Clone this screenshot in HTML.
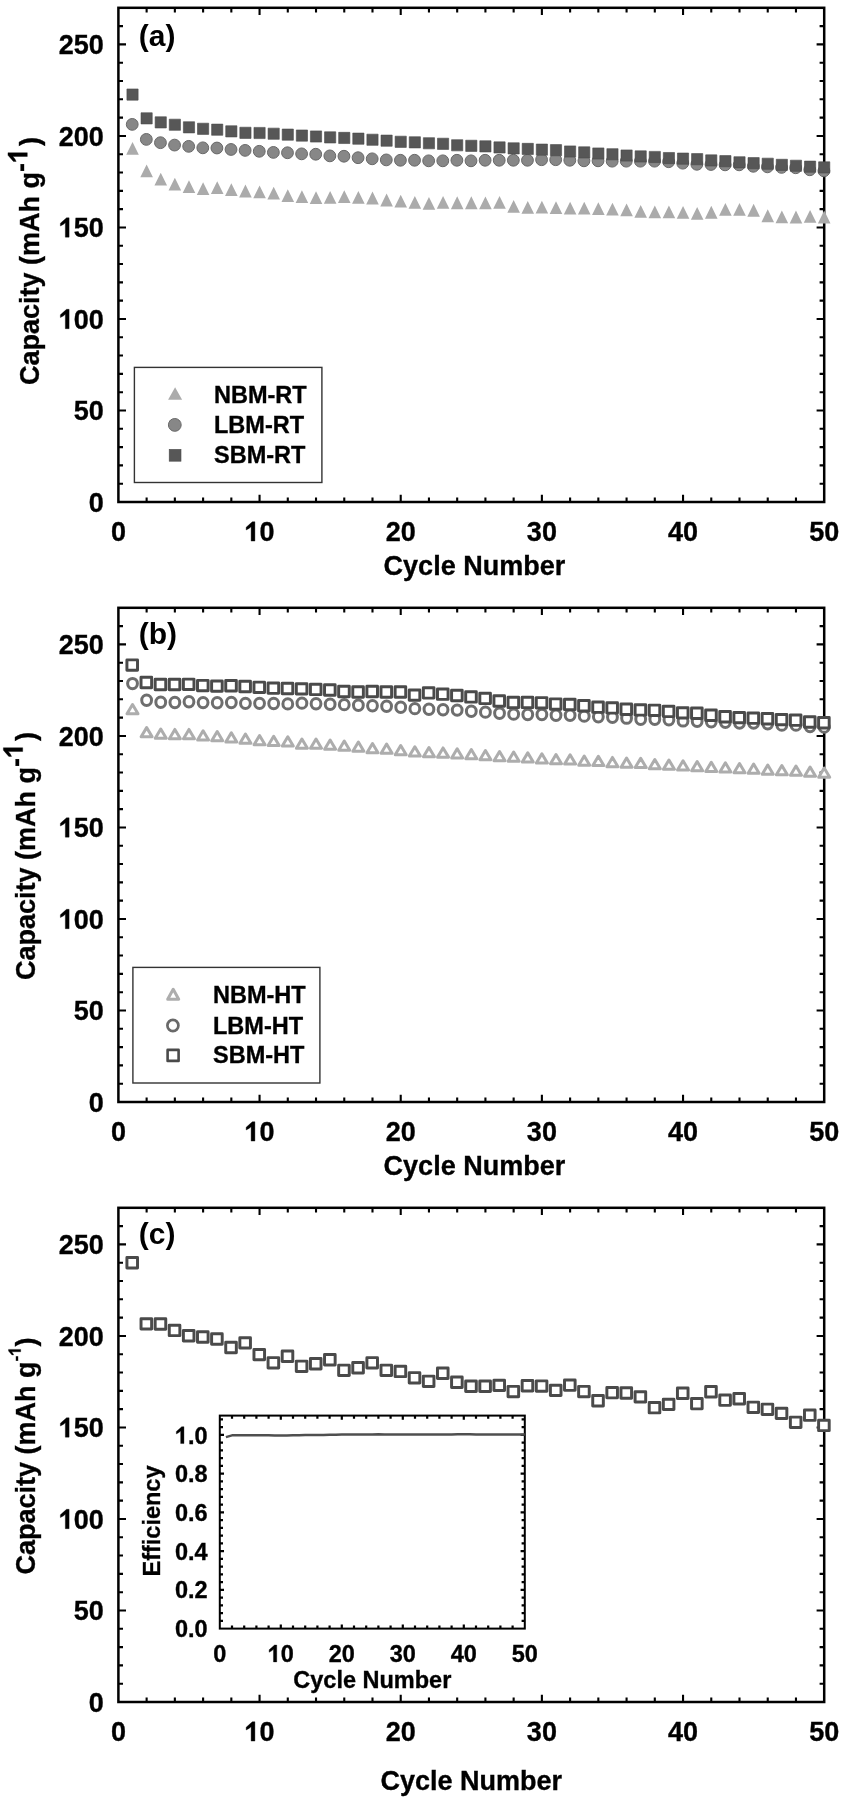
<!DOCTYPE html>
<html><head><meta charset="utf-8"><style>
html,body{margin:0;padding:0;background:#fff;width:848px;height:1800px;overflow:hidden}
svg{display:block;filter:grayscale(1) blur(0.45px)}
</style></head><body>
<svg width="848" height="1800" viewBox="0 0 848 1800">
<rect x="118.40" y="7.80" width="705.80" height="494.20" fill="none" stroke="#000" stroke-width="2.5"/>
<path d="M146.63 502.00v-4.6M146.63 7.80v4.6M174.86 502.00v-4.6M174.86 7.80v4.6M203.10 502.00v-4.6M203.10 7.80v4.6M231.33 502.00v-4.6M231.33 7.80v4.6M259.56 502.00v-7.2M259.56 7.80v7.2M287.79 502.00v-4.6M287.79 7.80v4.6M316.02 502.00v-4.6M316.02 7.80v4.6M344.26 502.00v-4.6M344.26 7.80v4.6M372.49 502.00v-4.6M372.49 7.80v4.6M400.72 502.00v-7.2M400.72 7.80v7.2M428.95 502.00v-4.6M428.95 7.80v4.6M457.18 502.00v-4.6M457.18 7.80v4.6M485.42 502.00v-4.6M485.42 7.80v4.6M513.65 502.00v-4.6M513.65 7.80v4.6M541.88 502.00v-7.2M541.88 7.80v7.2M570.11 502.00v-4.6M570.11 7.80v4.6M598.34 502.00v-4.6M598.34 7.80v4.6M626.58 502.00v-4.6M626.58 7.80v4.6M654.81 502.00v-4.6M654.81 7.80v4.6M683.04 502.00v-7.2M683.04 7.80v7.2M711.27 502.00v-4.6M711.27 7.80v4.6M739.50 502.00v-4.6M739.50 7.80v4.6M767.74 502.00v-4.6M767.74 7.80v4.6M795.97 502.00v-4.6M795.97 7.80v4.6M118.40 483.70h4.6M824.20 483.70h-4.6M118.40 465.39h4.6M824.20 465.39h-4.6M118.40 447.09h4.6M824.20 447.09h-4.6M118.40 428.79h4.6M824.20 428.79h-4.6M118.40 410.48h7.6M824.20 410.48h-7.6M118.40 392.18h4.6M824.20 392.18h-4.6M118.40 373.87h4.6M824.20 373.87h-4.6M118.40 355.57h4.6M824.20 355.57h-4.6M118.40 337.27h4.6M824.20 337.27h-4.6M118.40 318.96h7.6M824.20 318.96h-7.6M118.40 300.66h4.6M824.20 300.66h-4.6M118.40 282.36h4.6M824.20 282.36h-4.6M118.40 264.05h4.6M824.20 264.05h-4.6M118.40 245.75h4.6M824.20 245.75h-4.6M118.40 227.44h7.6M824.20 227.44h-7.6M118.40 209.14h4.6M824.20 209.14h-4.6M118.40 190.84h4.6M824.20 190.84h-4.6M118.40 172.53h4.6M824.20 172.53h-4.6M118.40 154.23h4.6M824.20 154.23h-4.6M118.40 135.93h7.6M824.20 135.93h-7.6M118.40 117.62h4.6M824.20 117.62h-4.6M118.40 99.32h4.6M824.20 99.32h-4.6M118.40 81.01h4.6M824.20 81.01h-4.6M118.40 62.71h4.6M824.20 62.71h-4.6M118.40 44.41h7.6M824.20 44.41h-7.6M118.40 26.10h4.6M824.20 26.10h-4.6" stroke="#000" stroke-width="2.1" fill="none"/>
<text x="110.89" y="541.10" font-family="Liberation Sans" font-weight="bold" stroke="#000" stroke-width="0.35" font-size="27" >0</text>
<text x="244.54" y="541.10" font-family="Liberation Sans" font-weight="bold" stroke="#000" stroke-width="0.35" font-size="27" > 0</text>
<path transform="translate(244.54,541.10) scale(0.013184,-0.013184)" d="M786 0H499V1092Q380 960 124 842V1054L591 1467H786Z" fill="#000" stroke="#000" stroke-width="26.5"/>
<text x="385.70" y="541.10" font-family="Liberation Sans" font-weight="bold" stroke="#000" stroke-width="0.35" font-size="27" >20</text>
<text x="526.86" y="541.10" font-family="Liberation Sans" font-weight="bold" stroke="#000" stroke-width="0.35" font-size="27" >30</text>
<text x="668.02" y="541.10" font-family="Liberation Sans" font-weight="bold" stroke="#000" stroke-width="0.35" font-size="27" >40</text>
<text x="809.18" y="541.10" font-family="Liberation Sans" font-weight="bold" stroke="#000" stroke-width="0.35" font-size="27" >50</text>
<text x="88.78" y="511.70" font-family="Liberation Sans" font-weight="bold" stroke="#000" stroke-width="0.35" font-size="27" >0</text>
<text x="73.77" y="420.18" font-family="Liberation Sans" font-weight="bold" stroke="#000" stroke-width="0.35" font-size="27" >50</text>
<text x="58.75" y="328.66" font-family="Liberation Sans" font-weight="bold" stroke="#000" stroke-width="0.35" font-size="27" > 00</text>
<path transform="translate(58.75,328.66) scale(0.013184,-0.013184)" d="M786 0H499V1092Q380 960 124 842V1054L591 1467H786Z" fill="#000" stroke="#000" stroke-width="26.5"/>
<text x="58.75" y="237.14" font-family="Liberation Sans" font-weight="bold" stroke="#000" stroke-width="0.35" font-size="27" > 50</text>
<path transform="translate(58.75,237.14) scale(0.013184,-0.013184)" d="M786 0H499V1092Q380 960 124 842V1054L591 1467H786Z" fill="#000" stroke="#000" stroke-width="26.5"/>
<text x="58.75" y="145.63" font-family="Liberation Sans" font-weight="bold" stroke="#000" stroke-width="0.35" font-size="27" >200</text>
<text x="58.75" y="54.11" font-family="Liberation Sans" font-weight="bold" stroke="#000" stroke-width="0.35" font-size="27" >250</text>
<text x="474.40" y="574.90" text-anchor="middle" font-family="Liberation Sans" font-weight="bold" stroke="#000" stroke-width="0.35" font-size="27">Cycle Number</text>
<g transform="translate(39.30,383.60) rotate(-90)">
<text x="-1.50" y="0" font-family="Liberation Sans" font-weight="bold" stroke="#000" stroke-width="0.35" font-size="27">Capacity (mAh g</text>
<text x="211.53" y="-9.80" font-family="Liberation Sans" font-weight="bold" stroke="#000" stroke-width="0.35" font-size="27">-</text>
<path transform="translate(220.52,-12.00) scale(0.013184,-0.013184)" d="M786 0H499V1092Q380 960 124 842V1054L591 1467H786Z" fill="#000" stroke="#000" stroke-width="26.5"/>
<text x="237.54" y="0" font-family="Liberation Sans" font-weight="bold" stroke="#000" stroke-width="0.35" font-size="27">)</text>
</g>
<text x="138.8" y="46.30" font-family="Liberation Sans" font-weight="bold" font-size="30">(a)</text>
<path d="M132.52 141.97L138.82 154.77H126.22ZM146.63 164.49L152.93 177.29H140.33ZM160.75 172.72L167.05 185.52H154.45ZM174.86 177.66L181.16 190.46H168.56ZM188.98 180.23L195.28 193.03H182.68ZM203.10 182.24L209.40 195.04H196.80ZM217.21 181.14L223.51 193.94H210.91ZM231.33 183.16L237.63 195.96H225.03ZM245.44 184.62L251.74 197.42H239.14ZM259.56 185.54L265.86 198.34H253.26ZM273.68 186.63L279.98 199.43H267.38ZM287.79 189.20L294.09 202.00H281.49ZM301.91 190.29L308.21 203.09H295.61ZM316.02 191.21L322.32 204.01H309.72ZM330.14 191.03L336.44 203.83H323.84ZM344.26 190.29L350.56 203.09H337.96ZM358.37 191.03L364.67 203.83H352.07ZM372.49 191.58L378.79 204.38H366.19ZM386.60 193.59L392.90 206.39H380.30ZM400.72 194.69L407.02 207.49H394.42ZM414.84 195.97L421.14 208.77H408.54ZM428.95 196.88L435.25 209.68H422.65ZM443.07 195.97L449.37 208.77H436.77ZM457.18 196.33L463.48 209.13H450.88ZM471.30 196.33L477.60 209.13H465.00ZM485.42 196.52L491.72 209.32H479.12ZM499.53 195.97L505.83 208.77H493.23ZM513.65 200.00L519.95 212.80H507.35ZM527.76 200.91L534.06 213.71H521.46ZM541.88 200.73L548.18 213.53H535.58ZM556.00 201.28L562.30 214.08H549.70ZM570.11 201.64L576.41 214.44H563.81ZM584.23 201.64L590.53 214.44H577.93ZM598.34 202.19L604.64 214.99H592.04ZM612.46 202.74L618.76 215.54H606.16ZM626.58 203.47L632.88 216.27H620.28ZM640.69 204.94L646.99 217.74H634.39ZM654.81 205.49L661.11 218.29H648.51ZM668.92 205.49L675.22 218.29H662.62ZM683.04 206.04L689.34 218.84H676.74ZM697.16 206.95L703.46 219.75H690.86ZM711.27 205.85L717.57 218.65H704.97ZM725.39 202.92L731.69 215.72H719.09ZM739.50 202.92L745.80 215.72H733.20ZM753.62 203.84L759.92 216.64H747.32ZM767.74 209.33L774.04 222.13H761.44ZM781.85 210.43L788.15 223.23H775.55ZM795.97 210.61L802.27 223.41H789.67ZM810.08 210.06L816.38 222.86H803.78ZM824.20 210.61L830.50 223.41H817.90Z" fill="#ababab"/>
<circle cx="132.22" cy="124.39" r="5.9" fill="#878787" stroke="#686868" stroke-width="1.0"/>
<circle cx="146.33" cy="139.40" r="5.9" fill="#878787" stroke="#686868" stroke-width="1.0"/>
<circle cx="160.45" cy="142.70" r="5.9" fill="#878787" stroke="#686868" stroke-width="1.0"/>
<circle cx="174.56" cy="145.08" r="5.9" fill="#878787" stroke="#686868" stroke-width="1.0"/>
<circle cx="188.68" cy="146.36" r="5.9" fill="#878787" stroke="#686868" stroke-width="1.0"/>
<circle cx="202.80" cy="147.82" r="5.9" fill="#878787" stroke="#686868" stroke-width="1.0"/>
<circle cx="216.91" cy="148.01" r="5.9" fill="#878787" stroke="#686868" stroke-width="1.0"/>
<circle cx="231.03" cy="149.47" r="5.9" fill="#878787" stroke="#686868" stroke-width="1.0"/>
<circle cx="245.14" cy="150.39" r="5.9" fill="#878787" stroke="#686868" stroke-width="1.0"/>
<circle cx="259.26" cy="151.30" r="5.9" fill="#878787" stroke="#686868" stroke-width="1.0"/>
<circle cx="273.38" cy="152.40" r="5.9" fill="#878787" stroke="#686868" stroke-width="1.0"/>
<circle cx="287.49" cy="152.77" r="5.9" fill="#878787" stroke="#686868" stroke-width="1.0"/>
<circle cx="301.61" cy="153.86" r="5.9" fill="#878787" stroke="#686868" stroke-width="1.0"/>
<circle cx="315.72" cy="154.23" r="5.9" fill="#878787" stroke="#686868" stroke-width="1.0"/>
<circle cx="329.84" cy="155.88" r="5.9" fill="#878787" stroke="#686868" stroke-width="1.0"/>
<circle cx="343.96" cy="156.24" r="5.9" fill="#878787" stroke="#686868" stroke-width="1.0"/>
<circle cx="358.07" cy="157.71" r="5.9" fill="#878787" stroke="#686868" stroke-width="1.0"/>
<circle cx="372.19" cy="158.81" r="5.9" fill="#878787" stroke="#686868" stroke-width="1.0"/>
<circle cx="386.30" cy="159.90" r="5.9" fill="#878787" stroke="#686868" stroke-width="1.0"/>
<circle cx="400.42" cy="160.27" r="5.9" fill="#878787" stroke="#686868" stroke-width="1.0"/>
<circle cx="414.54" cy="160.27" r="5.9" fill="#878787" stroke="#686868" stroke-width="1.0"/>
<circle cx="428.65" cy="160.82" r="5.9" fill="#878787" stroke="#686868" stroke-width="1.0"/>
<circle cx="442.77" cy="160.82" r="5.9" fill="#878787" stroke="#686868" stroke-width="1.0"/>
<circle cx="456.88" cy="160.27" r="5.9" fill="#878787" stroke="#686868" stroke-width="1.0"/>
<circle cx="471.00" cy="160.82" r="5.9" fill="#878787" stroke="#686868" stroke-width="1.0"/>
<circle cx="485.12" cy="160.27" r="5.9" fill="#878787" stroke="#686868" stroke-width="1.0"/>
<circle cx="499.23" cy="160.27" r="5.9" fill="#878787" stroke="#686868" stroke-width="1.0"/>
<circle cx="513.35" cy="160.27" r="5.9" fill="#878787" stroke="#686868" stroke-width="1.0"/>
<circle cx="527.46" cy="160.27" r="5.9" fill="#878787" stroke="#686868" stroke-width="1.0"/>
<circle cx="541.58" cy="159.72" r="5.9" fill="#878787" stroke="#686868" stroke-width="1.0"/>
<circle cx="555.70" cy="159.72" r="5.9" fill="#878787" stroke="#686868" stroke-width="1.0"/>
<circle cx="569.81" cy="160.27" r="5.9" fill="#878787" stroke="#686868" stroke-width="1.0"/>
<circle cx="583.93" cy="160.82" r="5.9" fill="#878787" stroke="#686868" stroke-width="1.0"/>
<circle cx="598.04" cy="160.82" r="5.9" fill="#878787" stroke="#686868" stroke-width="1.0"/>
<circle cx="612.16" cy="161.19" r="5.9" fill="#878787" stroke="#686868" stroke-width="1.0"/>
<circle cx="626.28" cy="161.19" r="5.9" fill="#878787" stroke="#686868" stroke-width="1.0"/>
<circle cx="640.39" cy="161.19" r="5.9" fill="#878787" stroke="#686868" stroke-width="1.0"/>
<circle cx="654.51" cy="161.19" r="5.9" fill="#878787" stroke="#686868" stroke-width="1.0"/>
<circle cx="668.62" cy="161.73" r="5.9" fill="#878787" stroke="#686868" stroke-width="1.0"/>
<circle cx="682.74" cy="163.20" r="5.9" fill="#878787" stroke="#686868" stroke-width="1.0"/>
<circle cx="696.86" cy="164.30" r="5.9" fill="#878787" stroke="#686868" stroke-width="1.0"/>
<circle cx="710.97" cy="164.48" r="5.9" fill="#878787" stroke="#686868" stroke-width="1.0"/>
<circle cx="725.09" cy="164.85" r="5.9" fill="#878787" stroke="#686868" stroke-width="1.0"/>
<circle cx="739.20" cy="164.85" r="5.9" fill="#878787" stroke="#686868" stroke-width="1.0"/>
<circle cx="753.32" cy="166.31" r="5.9" fill="#878787" stroke="#686868" stroke-width="1.0"/>
<circle cx="767.44" cy="166.86" r="5.9" fill="#878787" stroke="#686868" stroke-width="1.0"/>
<circle cx="781.55" cy="167.41" r="5.9" fill="#878787" stroke="#686868" stroke-width="1.0"/>
<circle cx="795.67" cy="167.77" r="5.9" fill="#878787" stroke="#686868" stroke-width="1.0"/>
<circle cx="809.78" cy="169.79" r="5.9" fill="#878787" stroke="#686868" stroke-width="1.0"/>
<circle cx="823.90" cy="170.89" r="5.9" fill="#878787" stroke="#686868" stroke-width="1.0"/>
<path d="M126.92 88.96h11.2v11.2h-11.2zM141.03 112.75h11.2v11.2h-11.2zM155.15 116.78h11.2v11.2h-11.2zM169.26 119.16h11.2v11.2h-11.2zM183.38 121.72h11.2v11.2h-11.2zM197.50 123.19h11.2v11.2h-11.2zM211.61 124.10h11.2v11.2h-11.2zM225.73 125.75h11.2v11.2h-11.2zM239.84 127.21h11.2v11.2h-11.2zM253.96 127.40h11.2v11.2h-11.2zM268.08 128.13h11.2v11.2h-11.2zM282.19 129.04h11.2v11.2h-11.2zM296.31 129.96h11.2v11.2h-11.2zM310.42 130.88h11.2v11.2h-11.2zM324.54 131.79h11.2v11.2h-11.2zM338.66 132.34h11.2v11.2h-11.2zM352.77 133.07h11.2v11.2h-11.2zM366.89 134.17h11.2v11.2h-11.2zM381.00 135.08h11.2v11.2h-11.2zM395.12 136.18h11.2v11.2h-11.2zM409.24 136.73h11.2v11.2h-11.2zM423.35 137.65h11.2v11.2h-11.2zM437.47 138.20h11.2v11.2h-11.2zM451.58 139.66h11.2v11.2h-11.2zM465.70 140.21h11.2v11.2h-11.2zM479.82 140.76h11.2v11.2h-11.2zM493.93 141.86h11.2v11.2h-11.2zM508.05 142.77h11.2v11.2h-11.2zM522.16 143.32h11.2v11.2h-11.2zM536.28 144.05h11.2v11.2h-11.2zM550.40 144.60h11.2v11.2h-11.2zM564.51 145.88h11.2v11.2h-11.2zM578.63 146.80h11.2v11.2h-11.2zM592.74 147.90h11.2v11.2h-11.2zM606.86 148.63h11.2v11.2h-11.2zM620.98 149.91h11.2v11.2h-11.2zM635.09 150.83h11.2v11.2h-11.2zM649.21 151.38h11.2v11.2h-11.2zM663.32 152.47h11.2v11.2h-11.2zM677.44 153.02h11.2v11.2h-11.2zM691.56 153.57h11.2v11.2h-11.2zM705.67 154.85h11.2v11.2h-11.2zM719.79 155.59h11.2v11.2h-11.2zM733.90 156.68h11.2v11.2h-11.2zM748.02 157.60h11.2v11.2h-11.2zM762.14 158.15h11.2v11.2h-11.2zM776.25 159.25h11.2v11.2h-11.2zM790.37 160.16h11.2v11.2h-11.2zM804.48 161.08h11.2v11.2h-11.2zM818.60 161.81h11.2v11.2h-11.2z" fill="#575757" stroke="#4a4a4a" stroke-width="0.6"/>
<rect x="134.4" y="367.4" width="187.5" height="115.1" fill="none" stroke="#333" stroke-width="1.4"/>
<path d="M175.10 387.15L182.10 399.85H168.10Z" fill="#ababab"/>
<circle cx="174.8" cy="424.9" r="6.4" fill="#878787" stroke="#686868" stroke-width="1.0"/>
<rect x="169.2" y="449.4" width="11.8" height="11.8" fill="#575757" stroke="#4a4a4a" stroke-width="0.6"/>
<text x="214" y="403.3" font-family="Liberation Sans" font-weight="bold" stroke="#000" stroke-width="0.35" font-size="23.5">NBM-RT</text>
<text x="214" y="433.2" font-family="Liberation Sans" font-weight="bold" stroke="#000" stroke-width="0.35" font-size="23.5">LBM-RT</text>
<text x="214" y="462.7" font-family="Liberation Sans" font-weight="bold" stroke="#000" stroke-width="0.35" font-size="23.5">SBM-RT</text>
<rect x="118.40" y="607.80" width="705.80" height="494.20" fill="none" stroke="#000" stroke-width="2.5"/>
<path d="M146.63 1102.00v-4.6M146.63 607.80v4.6M174.86 1102.00v-4.6M174.86 607.80v4.6M203.10 1102.00v-4.6M203.10 607.80v4.6M231.33 1102.00v-4.6M231.33 607.80v4.6M259.56 1102.00v-7.2M259.56 607.80v7.2M287.79 1102.00v-4.6M287.79 607.80v4.6M316.02 1102.00v-4.6M316.02 607.80v4.6M344.26 1102.00v-4.6M344.26 607.80v4.6M372.49 1102.00v-4.6M372.49 607.80v4.6M400.72 1102.00v-7.2M400.72 607.80v7.2M428.95 1102.00v-4.6M428.95 607.80v4.6M457.18 1102.00v-4.6M457.18 607.80v4.6M485.42 1102.00v-4.6M485.42 607.80v4.6M513.65 1102.00v-4.6M513.65 607.80v4.6M541.88 1102.00v-7.2M541.88 607.80v7.2M570.11 1102.00v-4.6M570.11 607.80v4.6M598.34 1102.00v-4.6M598.34 607.80v4.6M626.58 1102.00v-4.6M626.58 607.80v4.6M654.81 1102.00v-4.6M654.81 607.80v4.6M683.04 1102.00v-7.2M683.04 607.80v7.2M711.27 1102.00v-4.6M711.27 607.80v4.6M739.50 1102.00v-4.6M739.50 607.80v4.6M767.74 1102.00v-4.6M767.74 607.80v4.6M795.97 1102.00v-4.6M795.97 607.80v4.6M118.40 1083.70h4.6M824.20 1083.70h-4.6M118.40 1065.39h4.6M824.20 1065.39h-4.6M118.40 1047.09h4.6M824.20 1047.09h-4.6M118.40 1028.79h4.6M824.20 1028.79h-4.6M118.40 1010.48h7.6M824.20 1010.48h-7.6M118.40 992.18h4.6M824.20 992.18h-4.6M118.40 973.87h4.6M824.20 973.87h-4.6M118.40 955.57h4.6M824.20 955.57h-4.6M118.40 937.27h4.6M824.20 937.27h-4.6M118.40 918.96h7.6M824.20 918.96h-7.6M118.40 900.66h4.6M824.20 900.66h-4.6M118.40 882.36h4.6M824.20 882.36h-4.6M118.40 864.05h4.6M824.20 864.05h-4.6M118.40 845.75h4.6M824.20 845.75h-4.6M118.40 827.44h7.6M824.20 827.44h-7.6M118.40 809.14h4.6M824.20 809.14h-4.6M118.40 790.84h4.6M824.20 790.84h-4.6M118.40 772.53h4.6M824.20 772.53h-4.6M118.40 754.23h4.6M824.20 754.23h-4.6M118.40 735.93h7.6M824.20 735.93h-7.6M118.40 717.62h4.6M824.20 717.62h-4.6M118.40 699.32h4.6M824.20 699.32h-4.6M118.40 681.01h4.6M824.20 681.01h-4.6M118.40 662.71h4.6M824.20 662.71h-4.6M118.40 644.41h7.6M824.20 644.41h-7.6M118.40 626.10h4.6M824.20 626.10h-4.6" stroke="#000" stroke-width="2.1" fill="none"/>
<text x="110.89" y="1141.10" font-family="Liberation Sans" font-weight="bold" stroke="#000" stroke-width="0.35" font-size="27" >0</text>
<text x="244.54" y="1141.10" font-family="Liberation Sans" font-weight="bold" stroke="#000" stroke-width="0.35" font-size="27" > 0</text>
<path transform="translate(244.54,1141.10) scale(0.013184,-0.013184)" d="M786 0H499V1092Q380 960 124 842V1054L591 1467H786Z" fill="#000" stroke="#000" stroke-width="26.5"/>
<text x="385.70" y="1141.10" font-family="Liberation Sans" font-weight="bold" stroke="#000" stroke-width="0.35" font-size="27" >20</text>
<text x="526.86" y="1141.10" font-family="Liberation Sans" font-weight="bold" stroke="#000" stroke-width="0.35" font-size="27" >30</text>
<text x="668.02" y="1141.10" font-family="Liberation Sans" font-weight="bold" stroke="#000" stroke-width="0.35" font-size="27" >40</text>
<text x="809.18" y="1141.10" font-family="Liberation Sans" font-weight="bold" stroke="#000" stroke-width="0.35" font-size="27" >50</text>
<text x="88.78" y="1111.70" font-family="Liberation Sans" font-weight="bold" stroke="#000" stroke-width="0.35" font-size="27" >0</text>
<text x="73.77" y="1020.18" font-family="Liberation Sans" font-weight="bold" stroke="#000" stroke-width="0.35" font-size="27" >50</text>
<text x="58.75" y="928.66" font-family="Liberation Sans" font-weight="bold" stroke="#000" stroke-width="0.35" font-size="27" > 00</text>
<path transform="translate(58.75,928.66) scale(0.013184,-0.013184)" d="M786 0H499V1092Q380 960 124 842V1054L591 1467H786Z" fill="#000" stroke="#000" stroke-width="26.5"/>
<text x="58.75" y="837.14" font-family="Liberation Sans" font-weight="bold" stroke="#000" stroke-width="0.35" font-size="27" > 50</text>
<path transform="translate(58.75,837.14) scale(0.013184,-0.013184)" d="M786 0H499V1092Q380 960 124 842V1054L591 1467H786Z" fill="#000" stroke="#000" stroke-width="26.5"/>
<text x="58.75" y="745.63" font-family="Liberation Sans" font-weight="bold" stroke="#000" stroke-width="0.35" font-size="27" >200</text>
<text x="58.75" y="654.11" font-family="Liberation Sans" font-weight="bold" stroke="#000" stroke-width="0.35" font-size="27" >250</text>
<text x="474.40" y="1174.90" text-anchor="middle" font-family="Liberation Sans" font-weight="bold" stroke="#000" stroke-width="0.35" font-size="27">Cycle Number</text>
<g transform="translate(34.70,978.60) rotate(-90)">
<text x="-1.50" y="0" font-family="Liberation Sans" font-weight="bold" stroke="#000" stroke-width="0.35" font-size="27">Capacity (mAh g</text>
<text x="211.53" y="-9.80" font-family="Liberation Sans" font-weight="bold" stroke="#000" stroke-width="0.35" font-size="27">-</text>
<path transform="translate(220.52,-12.00) scale(0.013184,-0.013184)" d="M786 0H499V1092Q380 960 124 842V1054L591 1467H786Z" fill="#000" stroke="#000" stroke-width="26.5"/>
<text x="237.54" y="0" font-family="Liberation Sans" font-weight="bold" stroke="#000" stroke-width="0.35" font-size="27">)</text>
</g>
<text x="138.8" y="643.70" font-family="Liberation Sans" font-weight="bold" font-size="30">(b)</text>
<path d="M132.52 704.55L138.02 713.75H127.02Z" fill="#fff" stroke="#adadad" stroke-width="3.0" stroke-linejoin="round"/>
<path d="M146.63 727.62L152.13 736.82H141.13Z" fill="#fff" stroke="#adadad" stroke-width="3.0" stroke-linejoin="round"/>
<path d="M160.75 729.08L166.25 738.28H155.25Z" fill="#fff" stroke="#adadad" stroke-width="3.0" stroke-linejoin="round"/>
<path d="M174.86 729.45L180.36 738.65H169.36Z" fill="#fff" stroke="#adadad" stroke-width="3.0" stroke-linejoin="round"/>
<path d="M188.98 729.45L194.48 738.65H183.48Z" fill="#fff" stroke="#adadad" stroke-width="3.0" stroke-linejoin="round"/>
<path d="M203.10 730.73L208.60 739.93H197.60Z" fill="#fff" stroke="#adadad" stroke-width="3.0" stroke-linejoin="round"/>
<path d="M217.21 731.46L222.71 740.66H211.71Z" fill="#fff" stroke="#adadad" stroke-width="3.0" stroke-linejoin="round"/>
<path d="M231.33 732.74L236.83 741.94H225.83Z" fill="#fff" stroke="#adadad" stroke-width="3.0" stroke-linejoin="round"/>
<path d="M245.44 734.02L250.94 743.22H239.94Z" fill="#fff" stroke="#adadad" stroke-width="3.0" stroke-linejoin="round"/>
<path d="M259.56 735.49L265.06 744.69H254.06Z" fill="#fff" stroke="#adadad" stroke-width="3.0" stroke-linejoin="round"/>
<path d="M273.68 736.22L279.18 745.42H268.18Z" fill="#fff" stroke="#adadad" stroke-width="3.0" stroke-linejoin="round"/>
<path d="M287.79 736.77L293.29 745.97H282.29Z" fill="#fff" stroke="#adadad" stroke-width="3.0" stroke-linejoin="round"/>
<path d="M301.91 738.96L307.41 748.16H296.41Z" fill="#fff" stroke="#adadad" stroke-width="3.0" stroke-linejoin="round"/>
<path d="M316.02 738.96L321.52 748.16H310.52Z" fill="#fff" stroke="#adadad" stroke-width="3.0" stroke-linejoin="round"/>
<path d="M330.14 740.06L335.64 749.26H324.64Z" fill="#fff" stroke="#adadad" stroke-width="3.0" stroke-linejoin="round"/>
<path d="M344.26 740.98L349.76 750.18H338.76Z" fill="#fff" stroke="#adadad" stroke-width="3.0" stroke-linejoin="round"/>
<path d="M358.37 742.08L363.87 751.28H352.87Z" fill="#fff" stroke="#adadad" stroke-width="3.0" stroke-linejoin="round"/>
<path d="M372.49 743.54L377.99 752.74H366.99Z" fill="#fff" stroke="#adadad" stroke-width="3.0" stroke-linejoin="round"/>
<path d="M386.60 744.09L392.10 753.29H381.10Z" fill="#fff" stroke="#adadad" stroke-width="3.0" stroke-linejoin="round"/>
<path d="M400.72 745.55L406.22 754.75H395.22Z" fill="#fff" stroke="#adadad" stroke-width="3.0" stroke-linejoin="round"/>
<path d="M414.84 746.83L420.34 756.03H409.34Z" fill="#fff" stroke="#adadad" stroke-width="3.0" stroke-linejoin="round"/>
<path d="M428.95 747.57L434.45 756.77H423.45Z" fill="#fff" stroke="#adadad" stroke-width="3.0" stroke-linejoin="round"/>
<path d="M443.07 747.93L448.57 757.13H437.57Z" fill="#fff" stroke="#adadad" stroke-width="3.0" stroke-linejoin="round"/>
<path d="M457.18 748.85L462.68 758.05H451.68Z" fill="#fff" stroke="#adadad" stroke-width="3.0" stroke-linejoin="round"/>
<path d="M471.30 749.58L476.80 758.78H465.80Z" fill="#fff" stroke="#adadad" stroke-width="3.0" stroke-linejoin="round"/>
<path d="M485.42 750.50L490.92 759.70H479.92Z" fill="#fff" stroke="#adadad" stroke-width="3.0" stroke-linejoin="round"/>
<path d="M499.53 751.59L505.03 760.79H494.03Z" fill="#fff" stroke="#adadad" stroke-width="3.0" stroke-linejoin="round"/>
<path d="M513.65 751.96L519.15 761.16H508.15Z" fill="#fff" stroke="#adadad" stroke-width="3.0" stroke-linejoin="round"/>
<path d="M527.76 752.88L533.26 762.08H522.26Z" fill="#fff" stroke="#adadad" stroke-width="3.0" stroke-linejoin="round"/>
<path d="M541.88 753.79L547.38 762.99H536.38Z" fill="#fff" stroke="#adadad" stroke-width="3.0" stroke-linejoin="round"/>
<path d="M556.00 754.52L561.50 763.72H550.50Z" fill="#fff" stroke="#adadad" stroke-width="3.0" stroke-linejoin="round"/>
<path d="M570.11 754.71L575.61 763.91H564.61Z" fill="#fff" stroke="#adadad" stroke-width="3.0" stroke-linejoin="round"/>
<path d="M584.23 755.99L589.73 765.19H578.73Z" fill="#fff" stroke="#adadad" stroke-width="3.0" stroke-linejoin="round"/>
<path d="M598.34 756.35L603.84 765.55H592.84Z" fill="#fff" stroke="#adadad" stroke-width="3.0" stroke-linejoin="round"/>
<path d="M612.46 757.45L617.96 766.65H606.96Z" fill="#fff" stroke="#adadad" stroke-width="3.0" stroke-linejoin="round"/>
<path d="M626.58 758.00L632.08 767.20H621.08Z" fill="#fff" stroke="#adadad" stroke-width="3.0" stroke-linejoin="round"/>
<path d="M640.69 758.37L646.19 767.57H635.19Z" fill="#fff" stroke="#adadad" stroke-width="3.0" stroke-linejoin="round"/>
<path d="M654.81 759.46L660.31 768.66H649.31Z" fill="#fff" stroke="#adadad" stroke-width="3.0" stroke-linejoin="round"/>
<path d="M668.92 760.01L674.42 769.21H663.42Z" fill="#fff" stroke="#adadad" stroke-width="3.0" stroke-linejoin="round"/>
<path d="M683.04 760.84L688.54 770.04H677.54Z" fill="#fff" stroke="#adadad" stroke-width="3.0" stroke-linejoin="round"/>
<path d="M697.16 761.57L702.66 770.77H691.66Z" fill="#fff" stroke="#adadad" stroke-width="3.0" stroke-linejoin="round"/>
<path d="M711.27 762.21L716.77 771.41H705.77Z" fill="#fff" stroke="#adadad" stroke-width="3.0" stroke-linejoin="round"/>
<path d="M725.39 762.76L730.89 771.96H719.89Z" fill="#fff" stroke="#adadad" stroke-width="3.0" stroke-linejoin="round"/>
<path d="M739.50 763.49L745.00 772.69H734.00Z" fill="#fff" stroke="#adadad" stroke-width="3.0" stroke-linejoin="round"/>
<path d="M753.62 764.04L759.12 773.24H748.12Z" fill="#fff" stroke="#adadad" stroke-width="3.0" stroke-linejoin="round"/>
<path d="M767.74 764.96L773.24 774.16H762.24Z" fill="#fff" stroke="#adadad" stroke-width="3.0" stroke-linejoin="round"/>
<path d="M781.85 765.50L787.35 774.70H776.35Z" fill="#fff" stroke="#adadad" stroke-width="3.0" stroke-linejoin="round"/>
<path d="M795.97 766.05L801.47 775.25H790.47Z" fill="#fff" stroke="#adadad" stroke-width="3.0" stroke-linejoin="round"/>
<path d="M810.08 766.97L815.58 776.17H804.58Z" fill="#fff" stroke="#adadad" stroke-width="3.0" stroke-linejoin="round"/>
<path d="M824.20 768.07L829.70 777.27H818.70Z" fill="#fff" stroke="#adadad" stroke-width="3.0" stroke-linejoin="round"/>
<ellipse cx="132.52" cy="683.58" rx="4.9" ry="5.2" fill="#fff" stroke="#6e6e6e" stroke-width="3.0"/>
<ellipse cx="146.63" cy="700.23" rx="4.9" ry="5.2" fill="#fff" stroke="#6e6e6e" stroke-width="3.0"/>
<ellipse cx="160.75" cy="702.25" rx="4.9" ry="5.2" fill="#fff" stroke="#6e6e6e" stroke-width="3.0"/>
<ellipse cx="174.86" cy="702.43" rx="4.9" ry="5.2" fill="#fff" stroke="#6e6e6e" stroke-width="3.0"/>
<ellipse cx="188.98" cy="701.70" rx="4.9" ry="5.2" fill="#fff" stroke="#6e6e6e" stroke-width="3.0"/>
<ellipse cx="203.10" cy="702.61" rx="4.9" ry="5.2" fill="#fff" stroke="#6e6e6e" stroke-width="3.0"/>
<ellipse cx="217.21" cy="702.80" rx="4.9" ry="5.2" fill="#fff" stroke="#6e6e6e" stroke-width="3.0"/>
<ellipse cx="231.33" cy="702.43" rx="4.9" ry="5.2" fill="#fff" stroke="#6e6e6e" stroke-width="3.0"/>
<ellipse cx="245.44" cy="703.35" rx="4.9" ry="5.2" fill="#fff" stroke="#6e6e6e" stroke-width="3.0"/>
<ellipse cx="259.56" cy="703.35" rx="4.9" ry="5.2" fill="#fff" stroke="#6e6e6e" stroke-width="3.0"/>
<ellipse cx="273.68" cy="703.44" rx="4.9" ry="5.2" fill="#fff" stroke="#6e6e6e" stroke-width="3.0"/>
<ellipse cx="287.79" cy="703.89" rx="4.9" ry="5.2" fill="#fff" stroke="#6e6e6e" stroke-width="3.0"/>
<ellipse cx="301.91" cy="703.16" rx="4.9" ry="5.2" fill="#fff" stroke="#6e6e6e" stroke-width="3.0"/>
<ellipse cx="316.02" cy="703.71" rx="4.9" ry="5.2" fill="#fff" stroke="#6e6e6e" stroke-width="3.0"/>
<ellipse cx="330.14" cy="704.26" rx="4.9" ry="5.2" fill="#fff" stroke="#6e6e6e" stroke-width="3.0"/>
<ellipse cx="344.26" cy="704.63" rx="4.9" ry="5.2" fill="#fff" stroke="#6e6e6e" stroke-width="3.0"/>
<ellipse cx="358.37" cy="705.18" rx="4.9" ry="5.2" fill="#fff" stroke="#6e6e6e" stroke-width="3.0"/>
<ellipse cx="372.49" cy="705.72" rx="4.9" ry="5.2" fill="#fff" stroke="#6e6e6e" stroke-width="3.0"/>
<ellipse cx="386.60" cy="706.27" rx="4.9" ry="5.2" fill="#fff" stroke="#6e6e6e" stroke-width="3.0"/>
<ellipse cx="400.72" cy="707.19" rx="4.9" ry="5.2" fill="#fff" stroke="#6e6e6e" stroke-width="3.0"/>
<ellipse cx="414.84" cy="708.65" rx="4.9" ry="5.2" fill="#fff" stroke="#6e6e6e" stroke-width="3.0"/>
<ellipse cx="428.95" cy="709.20" rx="4.9" ry="5.2" fill="#fff" stroke="#6e6e6e" stroke-width="3.0"/>
<ellipse cx="443.07" cy="709.75" rx="4.9" ry="5.2" fill="#fff" stroke="#6e6e6e" stroke-width="3.0"/>
<ellipse cx="457.18" cy="710.12" rx="4.9" ry="5.2" fill="#fff" stroke="#6e6e6e" stroke-width="3.0"/>
<ellipse cx="471.30" cy="711.22" rx="4.9" ry="5.2" fill="#fff" stroke="#6e6e6e" stroke-width="3.0"/>
<ellipse cx="485.42" cy="712.13" rx="4.9" ry="5.2" fill="#fff" stroke="#6e6e6e" stroke-width="3.0"/>
<ellipse cx="499.53" cy="713.23" rx="4.9" ry="5.2" fill="#fff" stroke="#6e6e6e" stroke-width="3.0"/>
<ellipse cx="513.65" cy="714.14" rx="4.9" ry="5.2" fill="#fff" stroke="#6e6e6e" stroke-width="3.0"/>
<ellipse cx="527.76" cy="714.51" rx="4.9" ry="5.2" fill="#fff" stroke="#6e6e6e" stroke-width="3.0"/>
<ellipse cx="541.88" cy="714.51" rx="4.9" ry="5.2" fill="#fff" stroke="#6e6e6e" stroke-width="3.0"/>
<ellipse cx="556.00" cy="715.24" rx="4.9" ry="5.2" fill="#fff" stroke="#6e6e6e" stroke-width="3.0"/>
<ellipse cx="570.11" cy="715.24" rx="4.9" ry="5.2" fill="#fff" stroke="#6e6e6e" stroke-width="3.0"/>
<ellipse cx="584.23" cy="716.16" rx="4.9" ry="5.2" fill="#fff" stroke="#6e6e6e" stroke-width="3.0"/>
<ellipse cx="598.34" cy="716.71" rx="4.9" ry="5.2" fill="#fff" stroke="#6e6e6e" stroke-width="3.0"/>
<ellipse cx="612.46" cy="717.26" rx="4.9" ry="5.2" fill="#fff" stroke="#6e6e6e" stroke-width="3.0"/>
<ellipse cx="626.58" cy="718.17" rx="4.9" ry="5.2" fill="#fff" stroke="#6e6e6e" stroke-width="3.0"/>
<ellipse cx="640.69" cy="719.27" rx="4.9" ry="5.2" fill="#fff" stroke="#6e6e6e" stroke-width="3.0"/>
<ellipse cx="654.81" cy="719.27" rx="4.9" ry="5.2" fill="#fff" stroke="#6e6e6e" stroke-width="3.0"/>
<ellipse cx="668.92" cy="719.82" rx="4.9" ry="5.2" fill="#fff" stroke="#6e6e6e" stroke-width="3.0"/>
<ellipse cx="683.04" cy="720.92" rx="4.9" ry="5.2" fill="#fff" stroke="#6e6e6e" stroke-width="3.0"/>
<ellipse cx="697.16" cy="721.28" rx="4.9" ry="5.2" fill="#fff" stroke="#6e6e6e" stroke-width="3.0"/>
<ellipse cx="711.27" cy="721.83" rx="4.9" ry="5.2" fill="#fff" stroke="#6e6e6e" stroke-width="3.0"/>
<ellipse cx="725.39" cy="722.20" rx="4.9" ry="5.2" fill="#fff" stroke="#6e6e6e" stroke-width="3.0"/>
<ellipse cx="739.50" cy="723.11" rx="4.9" ry="5.2" fill="#fff" stroke="#6e6e6e" stroke-width="3.0"/>
<ellipse cx="753.62" cy="723.11" rx="4.9" ry="5.2" fill="#fff" stroke="#6e6e6e" stroke-width="3.0"/>
<ellipse cx="767.74" cy="723.85" rx="4.9" ry="5.2" fill="#fff" stroke="#6e6e6e" stroke-width="3.0"/>
<ellipse cx="781.85" cy="725.13" rx="4.9" ry="5.2" fill="#fff" stroke="#6e6e6e" stroke-width="3.0"/>
<ellipse cx="795.97" cy="725.13" rx="4.9" ry="5.2" fill="#fff" stroke="#6e6e6e" stroke-width="3.0"/>
<ellipse cx="810.08" cy="726.59" rx="4.9" ry="5.2" fill="#fff" stroke="#6e6e6e" stroke-width="3.0"/>
<ellipse cx="824.20" cy="727.14" rx="4.9" ry="5.2" fill="#fff" stroke="#6e6e6e" stroke-width="3.0"/>
<rect x="126.92" y="659.89" width="10.6" height="10.4" fill="#fff" stroke="#4a4a4a" stroke-width="2.95" stroke-linejoin="round"/>
<rect x="141.03" y="677.28" width="10.6" height="10.4" fill="#fff" stroke="#4a4a4a" stroke-width="2.95" stroke-linejoin="round"/>
<rect x="155.15" y="679.29" width="10.6" height="10.4" fill="#fff" stroke="#4a4a4a" stroke-width="2.95" stroke-linejoin="round"/>
<rect x="169.26" y="679.29" width="10.6" height="10.4" fill="#fff" stroke="#4a4a4a" stroke-width="2.95" stroke-linejoin="round"/>
<rect x="183.38" y="679.11" width="10.6" height="10.4" fill="#fff" stroke="#4a4a4a" stroke-width="2.95" stroke-linejoin="round"/>
<rect x="197.50" y="680.39" width="10.6" height="10.4" fill="#fff" stroke="#4a4a4a" stroke-width="2.95" stroke-linejoin="round"/>
<rect x="211.61" y="680.94" width="10.6" height="10.4" fill="#fff" stroke="#4a4a4a" stroke-width="2.95" stroke-linejoin="round"/>
<rect x="225.73" y="680.57" width="10.6" height="10.4" fill="#fff" stroke="#4a4a4a" stroke-width="2.95" stroke-linejoin="round"/>
<rect x="239.84" y="681.31" width="10.6" height="10.4" fill="#fff" stroke="#4a4a4a" stroke-width="2.95" stroke-linejoin="round"/>
<rect x="253.96" y="682.13" width="10.6" height="10.4" fill="#fff" stroke="#4a4a4a" stroke-width="2.95" stroke-linejoin="round"/>
<rect x="268.08" y="682.95" width="10.6" height="10.4" fill="#fff" stroke="#4a4a4a" stroke-width="2.95" stroke-linejoin="round"/>
<rect x="282.19" y="683.32" width="10.6" height="10.4" fill="#fff" stroke="#4a4a4a" stroke-width="2.95" stroke-linejoin="round"/>
<rect x="296.31" y="683.69" width="10.6" height="10.4" fill="#fff" stroke="#4a4a4a" stroke-width="2.95" stroke-linejoin="round"/>
<rect x="310.42" y="684.23" width="10.6" height="10.4" fill="#fff" stroke="#4a4a4a" stroke-width="2.95" stroke-linejoin="round"/>
<rect x="324.54" y="684.78" width="10.6" height="10.4" fill="#fff" stroke="#4a4a4a" stroke-width="2.95" stroke-linejoin="round"/>
<rect x="338.66" y="686.25" width="10.6" height="10.4" fill="#fff" stroke="#4a4a4a" stroke-width="2.95" stroke-linejoin="round"/>
<rect x="352.77" y="686.80" width="10.6" height="10.4" fill="#fff" stroke="#4a4a4a" stroke-width="2.95" stroke-linejoin="round"/>
<rect x="366.89" y="686.25" width="10.6" height="10.4" fill="#fff" stroke="#4a4a4a" stroke-width="2.95" stroke-linejoin="round"/>
<rect x="381.00" y="686.80" width="10.6" height="10.4" fill="#fff" stroke="#4a4a4a" stroke-width="2.95" stroke-linejoin="round"/>
<rect x="395.12" y="686.80" width="10.6" height="10.4" fill="#fff" stroke="#4a4a4a" stroke-width="2.95" stroke-linejoin="round"/>
<rect x="409.24" y="689.91" width="10.6" height="10.4" fill="#fff" stroke="#4a4a4a" stroke-width="2.95" stroke-linejoin="round"/>
<rect x="423.35" y="687.71" width="10.6" height="10.4" fill="#fff" stroke="#4a4a4a" stroke-width="2.95" stroke-linejoin="round"/>
<rect x="437.47" y="688.99" width="10.6" height="10.4" fill="#fff" stroke="#4a4a4a" stroke-width="2.95" stroke-linejoin="round"/>
<rect x="451.58" y="690.27" width="10.6" height="10.4" fill="#fff" stroke="#4a4a4a" stroke-width="2.95" stroke-linejoin="round"/>
<rect x="465.70" y="691.74" width="10.6" height="10.4" fill="#fff" stroke="#4a4a4a" stroke-width="2.95" stroke-linejoin="round"/>
<rect x="479.82" y="693.20" width="10.6" height="10.4" fill="#fff" stroke="#4a4a4a" stroke-width="2.95" stroke-linejoin="round"/>
<rect x="493.93" y="695.77" width="10.6" height="10.4" fill="#fff" stroke="#4a4a4a" stroke-width="2.95" stroke-linejoin="round"/>
<rect x="508.05" y="697.23" width="10.6" height="10.4" fill="#fff" stroke="#4a4a4a" stroke-width="2.95" stroke-linejoin="round"/>
<rect x="522.16" y="697.23" width="10.6" height="10.4" fill="#fff" stroke="#4a4a4a" stroke-width="2.95" stroke-linejoin="round"/>
<rect x="536.28" y="697.60" width="10.6" height="10.4" fill="#fff" stroke="#4a4a4a" stroke-width="2.95" stroke-linejoin="round"/>
<rect x="550.40" y="698.88" width="10.6" height="10.4" fill="#fff" stroke="#4a4a4a" stroke-width="2.95" stroke-linejoin="round"/>
<rect x="564.51" y="699.24" width="10.6" height="10.4" fill="#fff" stroke="#4a4a4a" stroke-width="2.95" stroke-linejoin="round"/>
<rect x="578.63" y="700.52" width="10.6" height="10.4" fill="#fff" stroke="#4a4a4a" stroke-width="2.95" stroke-linejoin="round"/>
<rect x="592.74" y="701.99" width="10.6" height="10.4" fill="#fff" stroke="#4a4a4a" stroke-width="2.95" stroke-linejoin="round"/>
<rect x="606.86" y="702.72" width="10.6" height="10.4" fill="#fff" stroke="#4a4a4a" stroke-width="2.95" stroke-linejoin="round"/>
<rect x="620.98" y="704.00" width="10.6" height="10.4" fill="#fff" stroke="#4a4a4a" stroke-width="2.95" stroke-linejoin="round"/>
<rect x="635.09" y="704.73" width="10.6" height="10.4" fill="#fff" stroke="#4a4a4a" stroke-width="2.95" stroke-linejoin="round"/>
<rect x="649.21" y="705.10" width="10.6" height="10.4" fill="#fff" stroke="#4a4a4a" stroke-width="2.95" stroke-linejoin="round"/>
<rect x="663.32" y="706.20" width="10.6" height="10.4" fill="#fff" stroke="#4a4a4a" stroke-width="2.95" stroke-linejoin="round"/>
<rect x="677.44" y="707.66" width="10.6" height="10.4" fill="#fff" stroke="#4a4a4a" stroke-width="2.95" stroke-linejoin="round"/>
<rect x="691.56" y="708.03" width="10.6" height="10.4" fill="#fff" stroke="#4a4a4a" stroke-width="2.95" stroke-linejoin="round"/>
<rect x="705.67" y="710.04" width="10.6" height="10.4" fill="#fff" stroke="#4a4a4a" stroke-width="2.95" stroke-linejoin="round"/>
<rect x="719.79" y="711.51" width="10.6" height="10.4" fill="#fff" stroke="#4a4a4a" stroke-width="2.95" stroke-linejoin="round"/>
<rect x="733.90" y="712.42" width="10.6" height="10.4" fill="#fff" stroke="#4a4a4a" stroke-width="2.95" stroke-linejoin="round"/>
<rect x="748.02" y="712.97" width="10.6" height="10.4" fill="#fff" stroke="#4a4a4a" stroke-width="2.95" stroke-linejoin="round"/>
<rect x="762.14" y="713.52" width="10.6" height="10.4" fill="#fff" stroke="#4a4a4a" stroke-width="2.95" stroke-linejoin="round"/>
<rect x="776.25" y="714.44" width="10.6" height="10.4" fill="#fff" stroke="#4a4a4a" stroke-width="2.95" stroke-linejoin="round"/>
<rect x="790.37" y="714.98" width="10.6" height="10.4" fill="#fff" stroke="#4a4a4a" stroke-width="2.95" stroke-linejoin="round"/>
<rect x="804.48" y="716.82" width="10.6" height="10.4" fill="#fff" stroke="#4a4a4a" stroke-width="2.95" stroke-linejoin="round"/>
<rect x="818.60" y="717.55" width="10.6" height="10.4" fill="#fff" stroke="#4a4a4a" stroke-width="2.95" stroke-linejoin="round"/>
<rect x="132.9" y="967.4" width="187" height="115.6" fill="none" stroke="#333" stroke-width="1.4"/>
<path d="M173.20 989.20L178.70 999.20H167.70Z" fill="#fff" stroke="#adadad" stroke-width="3.0" stroke-linejoin="round"/>
<ellipse cx="172.9" cy="1025.5" rx="5.5" ry="5.7" fill="#fff" stroke="#696969" stroke-width="2.7"/>
<rect x="167.6" y="1049.9" width="11.0" height="11.0" fill="#fff" stroke="#4a4a4a" stroke-width="2.6" stroke-linejoin="round"/>
<text x="213.0" y="1003.3" font-family="Liberation Sans" font-weight="bold" stroke="#000" stroke-width="0.35" font-size="23.5">NBM-HT</text>
<text x="213.0" y="1033.6" font-family="Liberation Sans" font-weight="bold" stroke="#000" stroke-width="0.35" font-size="23.5">LBM-HT</text>
<text x="213.0" y="1063.4" font-family="Liberation Sans" font-weight="bold" stroke="#000" stroke-width="0.35" font-size="23.5">SBM-HT</text>
<rect x="118.40" y="1207.80" width="705.80" height="494.20" fill="none" stroke="#000" stroke-width="2.5"/>
<path d="M146.63 1702.00v-4.6M146.63 1207.80v4.6M174.86 1702.00v-4.6M174.86 1207.80v4.6M203.10 1702.00v-4.6M203.10 1207.80v4.6M231.33 1702.00v-4.6M231.33 1207.80v4.6M259.56 1702.00v-7.2M259.56 1207.80v7.2M287.79 1702.00v-4.6M287.79 1207.80v4.6M316.02 1702.00v-4.6M316.02 1207.80v4.6M344.26 1702.00v-4.6M344.26 1207.80v4.6M372.49 1702.00v-4.6M372.49 1207.80v4.6M400.72 1702.00v-7.2M400.72 1207.80v7.2M428.95 1702.00v-4.6M428.95 1207.80v4.6M457.18 1702.00v-4.6M457.18 1207.80v4.6M485.42 1702.00v-4.6M485.42 1207.80v4.6M513.65 1702.00v-4.6M513.65 1207.80v4.6M541.88 1702.00v-7.2M541.88 1207.80v7.2M570.11 1702.00v-4.6M570.11 1207.80v4.6M598.34 1702.00v-4.6M598.34 1207.80v4.6M626.58 1702.00v-4.6M626.58 1207.80v4.6M654.81 1702.00v-4.6M654.81 1207.80v4.6M683.04 1702.00v-7.2M683.04 1207.80v7.2M711.27 1702.00v-4.6M711.27 1207.80v4.6M739.50 1702.00v-4.6M739.50 1207.80v4.6M767.74 1702.00v-4.6M767.74 1207.80v4.6M795.97 1702.00v-4.6M795.97 1207.80v4.6M118.40 1683.70h4.6M824.20 1683.70h-4.6M118.40 1665.39h4.6M824.20 1665.39h-4.6M118.40 1647.09h4.6M824.20 1647.09h-4.6M118.40 1628.79h4.6M824.20 1628.79h-4.6M118.40 1610.48h7.6M824.20 1610.48h-7.6M118.40 1592.18h4.6M824.20 1592.18h-4.6M118.40 1573.87h4.6M824.20 1573.87h-4.6M118.40 1555.57h4.6M824.20 1555.57h-4.6M118.40 1537.27h4.6M824.20 1537.27h-4.6M118.40 1518.96h7.6M824.20 1518.96h-7.6M118.40 1500.66h4.6M824.20 1500.66h-4.6M118.40 1482.36h4.6M824.20 1482.36h-4.6M118.40 1464.05h4.6M824.20 1464.05h-4.6M118.40 1445.75h4.6M824.20 1445.75h-4.6M118.40 1427.44h7.6M824.20 1427.44h-7.6M118.40 1409.14h4.6M824.20 1409.14h-4.6M118.40 1390.84h4.6M824.20 1390.84h-4.6M118.40 1372.53h4.6M824.20 1372.53h-4.6M118.40 1354.23h4.6M824.20 1354.23h-4.6M118.40 1335.93h7.6M824.20 1335.93h-7.6M118.40 1317.62h4.6M824.20 1317.62h-4.6M118.40 1299.32h4.6M824.20 1299.32h-4.6M118.40 1281.01h4.6M824.20 1281.01h-4.6M118.40 1262.71h4.6M824.20 1262.71h-4.6M118.40 1244.41h7.6M824.20 1244.41h-7.6M118.40 1226.10h4.6M824.20 1226.10h-4.6" stroke="#000" stroke-width="2.1" fill="none"/>
<text x="110.89" y="1741.10" font-family="Liberation Sans" font-weight="bold" stroke="#000" stroke-width="0.35" font-size="27" >0</text>
<text x="244.54" y="1741.10" font-family="Liberation Sans" font-weight="bold" stroke="#000" stroke-width="0.35" font-size="27" > 0</text>
<path transform="translate(244.54,1741.10) scale(0.013184,-0.013184)" d="M786 0H499V1092Q380 960 124 842V1054L591 1467H786Z" fill="#000" stroke="#000" stroke-width="26.5"/>
<text x="385.70" y="1741.10" font-family="Liberation Sans" font-weight="bold" stroke="#000" stroke-width="0.35" font-size="27" >20</text>
<text x="526.86" y="1741.10" font-family="Liberation Sans" font-weight="bold" stroke="#000" stroke-width="0.35" font-size="27" >30</text>
<text x="668.02" y="1741.10" font-family="Liberation Sans" font-weight="bold" stroke="#000" stroke-width="0.35" font-size="27" >40</text>
<text x="809.18" y="1741.10" font-family="Liberation Sans" font-weight="bold" stroke="#000" stroke-width="0.35" font-size="27" >50</text>
<text x="88.78" y="1711.70" font-family="Liberation Sans" font-weight="bold" stroke="#000" stroke-width="0.35" font-size="27" >0</text>
<text x="73.77" y="1620.18" font-family="Liberation Sans" font-weight="bold" stroke="#000" stroke-width="0.35" font-size="27" >50</text>
<text x="58.75" y="1528.66" font-family="Liberation Sans" font-weight="bold" stroke="#000" stroke-width="0.35" font-size="27" > 00</text>
<path transform="translate(58.75,1528.66) scale(0.013184,-0.013184)" d="M786 0H499V1092Q380 960 124 842V1054L591 1467H786Z" fill="#000" stroke="#000" stroke-width="26.5"/>
<text x="58.75" y="1437.14" font-family="Liberation Sans" font-weight="bold" stroke="#000" stroke-width="0.35" font-size="27" > 50</text>
<path transform="translate(58.75,1437.14) scale(0.013184,-0.013184)" d="M786 0H499V1092Q380 960 124 842V1054L591 1467H786Z" fill="#000" stroke="#000" stroke-width="26.5"/>
<text x="58.75" y="1345.63" font-family="Liberation Sans" font-weight="bold" stroke="#000" stroke-width="0.35" font-size="27" >200</text>
<text x="58.75" y="1254.11" font-family="Liberation Sans" font-weight="bold" stroke="#000" stroke-width="0.35" font-size="27" >250</text>
<text x="471.20" y="1790.30" text-anchor="middle" font-family="Liberation Sans" font-weight="bold" stroke="#000" stroke-width="0.35" font-size="27">Cycle Number</text>
<g transform="translate(34.70,1573.10) rotate(-90)">
<text x="-1.50" y="0" font-family="Liberation Sans" font-weight="bold" stroke="#000" stroke-width="0.35" font-size="27">Capacity (mAh g</text>
<text x="211.53" y="-14.00" font-family="Liberation Sans" font-weight="bold" stroke="#000" stroke-width="0.35" font-size="17">-</text>
<path transform="translate(217.19,-14.00) scale(0.008301,-0.008301)" d="M786 0H499V1092Q380 960 124 842V1054L591 1467H786Z" fill="#000" stroke="#000" stroke-width="42.2"/>
<text x="226.65" y="0" font-family="Liberation Sans" font-weight="bold" stroke="#000" stroke-width="0.35" font-size="27">)</text>
</g>
<text x="138.8" y="1243.70" font-family="Liberation Sans" font-weight="bold" font-size="30">(c)</text>
<rect x="126.92" y="1257.51" width="10.6" height="10.4" fill="#fff" stroke="#4a4a4a" stroke-width="2.95" stroke-linejoin="round"/>
<rect x="141.03" y="1318.65" width="10.6" height="10.4" fill="#fff" stroke="#4a4a4a" stroke-width="2.95" stroke-linejoin="round"/>
<rect x="155.15" y="1318.83" width="10.6" height="10.4" fill="#fff" stroke="#4a4a4a" stroke-width="2.95" stroke-linejoin="round"/>
<rect x="169.26" y="1325.23" width="10.6" height="10.4" fill="#fff" stroke="#4a4a4a" stroke-width="2.95" stroke-linejoin="round"/>
<rect x="183.38" y="1330.54" width="10.6" height="10.4" fill="#fff" stroke="#4a4a4a" stroke-width="2.95" stroke-linejoin="round"/>
<rect x="197.50" y="1331.82" width="10.6" height="10.4" fill="#fff" stroke="#4a4a4a" stroke-width="2.95" stroke-linejoin="round"/>
<rect x="211.61" y="1333.84" width="10.6" height="10.4" fill="#fff" stroke="#4a4a4a" stroke-width="2.95" stroke-linejoin="round"/>
<rect x="225.73" y="1342.26" width="10.6" height="10.4" fill="#fff" stroke="#4a4a4a" stroke-width="2.95" stroke-linejoin="round"/>
<rect x="239.84" y="1337.68" width="10.6" height="10.4" fill="#fff" stroke="#4a4a4a" stroke-width="2.95" stroke-linejoin="round"/>
<rect x="253.96" y="1349.40" width="10.6" height="10.4" fill="#fff" stroke="#4a4a4a" stroke-width="2.95" stroke-linejoin="round"/>
<rect x="268.08" y="1357.63" width="10.6" height="10.4" fill="#fff" stroke="#4a4a4a" stroke-width="2.95" stroke-linejoin="round"/>
<rect x="282.19" y="1351.04" width="10.6" height="10.4" fill="#fff" stroke="#4a4a4a" stroke-width="2.95" stroke-linejoin="round"/>
<rect x="296.31" y="1361.11" width="10.6" height="10.4" fill="#fff" stroke="#4a4a4a" stroke-width="2.95" stroke-linejoin="round"/>
<rect x="310.42" y="1358.55" width="10.6" height="10.4" fill="#fff" stroke="#4a4a4a" stroke-width="2.95" stroke-linejoin="round"/>
<rect x="324.54" y="1354.52" width="10.6" height="10.4" fill="#fff" stroke="#4a4a4a" stroke-width="2.95" stroke-linejoin="round"/>
<rect x="338.66" y="1365.14" width="10.6" height="10.4" fill="#fff" stroke="#4a4a4a" stroke-width="2.95" stroke-linejoin="round"/>
<rect x="352.77" y="1362.57" width="10.6" height="10.4" fill="#fff" stroke="#4a4a4a" stroke-width="2.95" stroke-linejoin="round"/>
<rect x="366.89" y="1357.63" width="10.6" height="10.4" fill="#fff" stroke="#4a4a4a" stroke-width="2.95" stroke-linejoin="round"/>
<rect x="381.00" y="1365.14" width="10.6" height="10.4" fill="#fff" stroke="#4a4a4a" stroke-width="2.95" stroke-linejoin="round"/>
<rect x="395.12" y="1366.24" width="10.6" height="10.4" fill="#fff" stroke="#4a4a4a" stroke-width="2.95" stroke-linejoin="round"/>
<rect x="409.24" y="1372.64" width="10.6" height="10.4" fill="#fff" stroke="#4a4a4a" stroke-width="2.95" stroke-linejoin="round"/>
<rect x="423.35" y="1376.12" width="10.6" height="10.4" fill="#fff" stroke="#4a4a4a" stroke-width="2.95" stroke-linejoin="round"/>
<rect x="437.47" y="1368.07" width="10.6" height="10.4" fill="#fff" stroke="#4a4a4a" stroke-width="2.95" stroke-linejoin="round"/>
<rect x="451.58" y="1377.03" width="10.6" height="10.4" fill="#fff" stroke="#4a4a4a" stroke-width="2.95" stroke-linejoin="round"/>
<rect x="465.70" y="1381.06" width="10.6" height="10.4" fill="#fff" stroke="#4a4a4a" stroke-width="2.95" stroke-linejoin="round"/>
<rect x="479.82" y="1381.06" width="10.6" height="10.4" fill="#fff" stroke="#4a4a4a" stroke-width="2.95" stroke-linejoin="round"/>
<rect x="493.93" y="1380.15" width="10.6" height="10.4" fill="#fff" stroke="#4a4a4a" stroke-width="2.95" stroke-linejoin="round"/>
<rect x="508.05" y="1386.37" width="10.6" height="10.4" fill="#fff" stroke="#4a4a4a" stroke-width="2.95" stroke-linejoin="round"/>
<rect x="522.16" y="1380.51" width="10.6" height="10.4" fill="#fff" stroke="#4a4a4a" stroke-width="2.95" stroke-linejoin="round"/>
<rect x="536.28" y="1380.88" width="10.6" height="10.4" fill="#fff" stroke="#4a4a4a" stroke-width="2.95" stroke-linejoin="round"/>
<rect x="550.40" y="1385.18" width="10.6" height="10.4" fill="#fff" stroke="#4a4a4a" stroke-width="2.95" stroke-linejoin="round"/>
<rect x="564.51" y="1379.96" width="10.6" height="10.4" fill="#fff" stroke="#4a4a4a" stroke-width="2.95" stroke-linejoin="round"/>
<rect x="578.63" y="1386.37" width="10.6" height="10.4" fill="#fff" stroke="#4a4a4a" stroke-width="2.95" stroke-linejoin="round"/>
<rect x="592.74" y="1395.52" width="10.6" height="10.4" fill="#fff" stroke="#4a4a4a" stroke-width="2.95" stroke-linejoin="round"/>
<rect x="606.86" y="1387.47" width="10.6" height="10.4" fill="#fff" stroke="#4a4a4a" stroke-width="2.95" stroke-linejoin="round"/>
<rect x="620.98" y="1387.83" width="10.6" height="10.4" fill="#fff" stroke="#4a4a4a" stroke-width="2.95" stroke-linejoin="round"/>
<rect x="635.09" y="1391.68" width="10.6" height="10.4" fill="#fff" stroke="#4a4a4a" stroke-width="2.95" stroke-linejoin="round"/>
<rect x="649.21" y="1402.48" width="10.6" height="10.4" fill="#fff" stroke="#4a4a4a" stroke-width="2.95" stroke-linejoin="round"/>
<rect x="663.32" y="1399.18" width="10.6" height="10.4" fill="#fff" stroke="#4a4a4a" stroke-width="2.95" stroke-linejoin="round"/>
<rect x="677.44" y="1388.02" width="10.6" height="10.4" fill="#fff" stroke="#4a4a4a" stroke-width="2.95" stroke-linejoin="round"/>
<rect x="691.56" y="1398.45" width="10.6" height="10.4" fill="#fff" stroke="#4a4a4a" stroke-width="2.95" stroke-linejoin="round"/>
<rect x="705.67" y="1386.55" width="10.6" height="10.4" fill="#fff" stroke="#4a4a4a" stroke-width="2.95" stroke-linejoin="round"/>
<rect x="719.79" y="1394.97" width="10.6" height="10.4" fill="#fff" stroke="#4a4a4a" stroke-width="2.95" stroke-linejoin="round"/>
<rect x="733.90" y="1393.51" width="10.6" height="10.4" fill="#fff" stroke="#4a4a4a" stroke-width="2.95" stroke-linejoin="round"/>
<rect x="748.02" y="1402.11" width="10.6" height="10.4" fill="#fff" stroke="#4a4a4a" stroke-width="2.95" stroke-linejoin="round"/>
<rect x="762.14" y="1404.12" width="10.6" height="10.4" fill="#fff" stroke="#4a4a4a" stroke-width="2.95" stroke-linejoin="round"/>
<rect x="776.25" y="1408.15" width="10.6" height="10.4" fill="#fff" stroke="#4a4a4a" stroke-width="2.95" stroke-linejoin="round"/>
<rect x="790.37" y="1417.12" width="10.6" height="10.4" fill="#fff" stroke="#4a4a4a" stroke-width="2.95" stroke-linejoin="round"/>
<rect x="804.48" y="1409.98" width="10.6" height="10.4" fill="#fff" stroke="#4a4a4a" stroke-width="2.95" stroke-linejoin="round"/>
<rect x="818.60" y="1420.23" width="10.6" height="10.4" fill="#fff" stroke="#4a4a4a" stroke-width="2.95" stroke-linejoin="round"/>
<rect x="219.8" y="1415.6" width="304.99999999999994" height="213.0" fill="#fff" stroke="#000" stroke-width="2.0"/>
<path d="M232.00 1628.60v-3.2M232.00 1415.60v3.2M244.20 1628.60v-3.2M244.20 1415.60v3.2M256.40 1628.60v-3.2M256.40 1415.60v3.2M268.60 1628.60v-3.2M268.60 1415.60v3.2M280.80 1628.60v-4.2M280.80 1415.60v4.2M293.00 1628.60v-3.2M293.00 1415.60v3.2M305.20 1628.60v-3.2M305.20 1415.60v3.2M317.40 1628.60v-3.2M317.40 1415.60v3.2M329.60 1628.60v-3.2M329.60 1415.60v3.2M341.80 1628.60v-4.2M341.80 1415.60v4.2M354.00 1628.60v-3.2M354.00 1415.60v3.2M366.20 1628.60v-3.2M366.20 1415.60v3.2M378.40 1628.60v-3.2M378.40 1415.60v3.2M390.60 1628.60v-3.2M390.60 1415.60v3.2M402.80 1628.60v-4.2M402.80 1415.60v4.2M415.00 1628.60v-3.2M415.00 1415.60v3.2M427.20 1628.60v-3.2M427.20 1415.60v3.2M439.40 1628.60v-3.2M439.40 1415.60v3.2M451.60 1628.60v-3.2M451.60 1415.60v3.2M463.80 1628.60v-4.2M463.80 1415.60v4.2M476.00 1628.60v-3.2M476.00 1415.60v3.2M488.20 1628.60v-3.2M488.20 1415.60v3.2M500.40 1628.60v-3.2M500.40 1415.60v3.2M512.60 1628.60v-3.2M512.60 1415.60v3.2M219.80 1620.85h3.2M524.80 1620.85h-3.2M219.80 1613.11h3.2M524.80 1613.11h-3.2M219.80 1605.36h3.2M524.80 1605.36h-3.2M219.80 1597.62h3.2M524.80 1597.62h-3.2M219.80 1589.87h4.2M524.80 1589.87h-4.2M219.80 1582.13h3.2M524.80 1582.13h-3.2M219.80 1574.38h3.2M524.80 1574.38h-3.2M219.80 1566.64h3.2M524.80 1566.64h-3.2M219.80 1558.89h3.2M524.80 1558.89h-3.2M219.80 1551.15h4.2M524.80 1551.15h-4.2M219.80 1543.40h3.2M524.80 1543.40h-3.2M219.80 1535.65h3.2M524.80 1535.65h-3.2M219.80 1527.91h3.2M524.80 1527.91h-3.2M219.80 1520.16h3.2M524.80 1520.16h-3.2M219.80 1512.42h4.2M524.80 1512.42h-4.2M219.80 1504.67h3.2M524.80 1504.67h-3.2M219.80 1496.93h3.2M524.80 1496.93h-3.2M219.80 1489.18h3.2M524.80 1489.18h-3.2M219.80 1481.44h3.2M524.80 1481.44h-3.2M219.80 1473.69h4.2M524.80 1473.69h-4.2M219.80 1465.95h3.2M524.80 1465.95h-3.2M219.80 1458.20h3.2M524.80 1458.20h-3.2M219.80 1450.45h3.2M524.80 1450.45h-3.2M219.80 1442.71h3.2M524.80 1442.71h-3.2M219.80 1434.96h4.2M524.80 1434.96h-4.2M219.80 1427.22h3.2M524.80 1427.22h-3.2M219.80 1419.47h3.2M524.80 1419.47h-3.2" stroke="#000" stroke-width="2.2" fill="none"/>
<text x="213.27" y="1661.90" font-family="Liberation Sans" font-weight="bold" stroke="#000" stroke-width="0.35" font-size="23.5" >0</text>
<text x="267.73" y="1661.90" font-family="Liberation Sans" font-weight="bold" stroke="#000" stroke-width="0.35" font-size="23.5" > 0</text>
<path transform="translate(267.73,1661.90) scale(0.011475,-0.011475)" d="M786 0H499V1092Q380 960 124 842V1054L591 1467H786Z" fill="#000" stroke="#000" stroke-width="30.5"/>
<text x="328.73" y="1661.90" font-family="Liberation Sans" font-weight="bold" stroke="#000" stroke-width="0.35" font-size="23.5" >20</text>
<text x="389.73" y="1661.90" font-family="Liberation Sans" font-weight="bold" stroke="#000" stroke-width="0.35" font-size="23.5" >30</text>
<text x="450.73" y="1661.90" font-family="Liberation Sans" font-weight="bold" stroke="#000" stroke-width="0.35" font-size="23.5" >40</text>
<text x="511.73" y="1661.90" font-family="Liberation Sans" font-weight="bold" stroke="#000" stroke-width="0.35" font-size="23.5" >50</text>
<text x="174.93" y="1637.20" font-family="Liberation Sans" font-weight="bold" stroke="#000" stroke-width="0.35" font-size="23.5" >0.0</text>
<text x="174.93" y="1598.47" font-family="Liberation Sans" font-weight="bold" stroke="#000" stroke-width="0.35" font-size="23.5" >0.2</text>
<text x="174.93" y="1559.75" font-family="Liberation Sans" font-weight="bold" stroke="#000" stroke-width="0.35" font-size="23.5" >0.4</text>
<text x="174.93" y="1521.02" font-family="Liberation Sans" font-weight="bold" stroke="#000" stroke-width="0.35" font-size="23.5" >0.6</text>
<text x="174.93" y="1482.29" font-family="Liberation Sans" font-weight="bold" stroke="#000" stroke-width="0.35" font-size="23.5" >0.8</text>
<text x="174.93" y="1443.56" font-family="Liberation Sans" font-weight="bold" stroke="#000" stroke-width="0.35" font-size="23.5" > .0</text>
<path transform="translate(174.93,1443.56) scale(0.011475,-0.011475)" d="M786 0H499V1092Q380 960 124 842V1054L591 1467H786Z" fill="#000" stroke="#000" stroke-width="30.5"/>
<text x="372.30" y="1688.1" text-anchor="middle" font-family="Liberation Sans" font-weight="bold" stroke="#000" stroke-width="0.35" font-size="23.5">Cycle Number</text>
<text transform="translate(159.8,1521) rotate(-90)" text-anchor="middle" font-family="Liberation Sans" font-weight="bold" stroke="#000" stroke-width="0.35" font-size="23.5">Efficiency</text>
<polyline points="225.90,1437.09 232.00,1435.35 238.10,1435.16 244.20,1435.16 250.30,1435.16 256.40,1435.16 262.50,1435.16 268.60,1435.35 274.70,1435.54 280.80,1435.54 286.90,1435.54 293.00,1435.35 299.10,1435.16 305.20,1434.96 311.30,1434.96 317.40,1434.96 323.50,1434.96 329.60,1434.77 335.70,1434.77 341.80,1434.58 347.90,1434.58 354.00,1434.58 360.10,1434.58 366.20,1434.38 372.30,1434.38 378.40,1434.19 384.50,1434.38 390.60,1434.38 396.70,1434.38 402.80,1434.38 408.90,1434.38 415.00,1434.38 421.10,1434.38 427.20,1434.58 433.30,1434.38 439.40,1434.38 445.50,1434.38 451.60,1434.38 457.70,1434.19 463.80,1434.19 469.90,1434.19 476.00,1434.38 482.10,1434.38 488.20,1434.38 494.30,1434.38 500.40,1434.38 506.50,1434.38 512.60,1434.38 518.70,1434.38 524.80,1434.38" fill="none" stroke="#4f4f4f" stroke-width="2.5" stroke-linejoin="round"/>
</svg>
</body></html>
